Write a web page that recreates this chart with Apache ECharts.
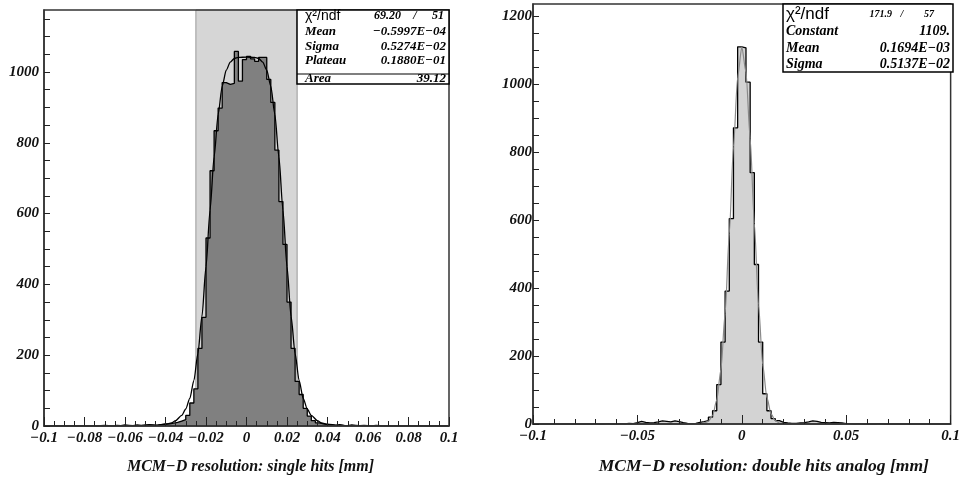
<!DOCTYPE html>
<html>
<head>
<meta charset="utf-8">
<script src="https://cdn.jsdelivr.net/npm/echarts@6/dist/echarts.min.js"></script>
<style>html,body{margin:0;padding:0;background:#fff}#main{width:963px;height:480px}</style>
</head>
<body>
<div id="main"></div>
<script>
// histogram: 100 bins of 0.002 from -0.1 to 0.1
var binLo = -0.1;
var binW = 0.002;

var leftCounts = [
  0, 0, 1, 0, 0, 1, 0, 0, 1, 0,
  0, 1, 0, 1, 2, 1, 0, 2, 1, 3,
  2, 1, 3, 2, 3, 4, 3, 2, 4, 6,
  6, 8, 10, 14, 18, 30, 65, 105, 219, 307,
  531, 721, 834, 898, 970, 965, 968, 1058, 974, 1035,
  1044, 1037, 1030, 1041, 1041, 979, 914, 779, 634, 513,
  350, 219, 126, 89, 50, 28, 15, 9, 6, 4,
  3, 2, 4, 2, 1, 3, 2, 1, 2, 1,
  0, 2, 1, 0, 1, 0, 1, 0, 0, 1,
  0, 0, 1, 0, 0, 0, 1, 0, 0, 0
];

var rightCounts = [
  0, 0, 0, 0, 0, 0, 0, 0, 0, 0,
  0, 0, 0, 0, 1, 0, 0, 1, 0, 0,
  1, 0, 2, 1, 4, 8, 5, 3, 4, 6,
  9, 8, 6, 9, 7, 4, 2, 1, 2, 5,
  7, 10, 20, 39, 116, 241, 391, 604, 871, 1109,
  1106, 1005, 739, 469, 241, 89, 39, 16, 10, 5,
  3, 2, 2, 3, 4, 6, 9, 8, 5, 4,
  3, 5, 4, 3, 1, 1, 0, 1, 0, 0,
  0, 0, 1, 0, 0, 0, 0, 0, 0, 0,
  0, 0, 0, 0, 0, 0, 0, 0, 0, 0
];

// fit curves
var leftFitX = [-0.1, -0.07, -0.05, -0.045, -0.04, -0.037, -0.035, -0.032, -0.03, -0.028, -0.026, -0.024, -0.022, -0.02, -0.018, -0.016, -0.014, -0.012, -0.01, -0.008, -0.006, -0.004, 0,
  0.004, 0.006, 0.008, 0.01, 0.012, 0.014, 0.016, 0.018, 0.02, 0.022, 0.024, 0.026, 0.028, 0.03, 0.032, 0.035, 0.037, 0.04, 0.045, 0.05, 0.07, 0.1];
var leftFitY = [0, 0, 1, 2, 5, 9, 15, 30, 48, 78, 128, 205, 310, 450, 610, 760, 880, 960, 1005, 1028, 1038, 1041, 1042,
  1041, 1038, 1028, 1005, 960, 880, 760, 610, 450, 310, 205, 128, 78, 48, 30, 15, 9, 5, 2, 1, 0, 0];

var rightFitX = [-0.1, -0.03, -0.02, -0.018, -0.016, -0.014, -0.012, -0.01, -0.008, -0.006, -0.004, -0.002, 0, 0.002, 0.004, 0.006, 0.008, 0.01, 0.012, 0.014, 0.016, 0.018, 0.02, 0.03, 0.1];
var rightFitY = [0, 0, 1, 3, 8, 25, 70, 160, 325, 560, 815, 1020, 1108, 1035, 840, 590, 350, 175, 78, 30, 10, 3, 1, 0, 0];

var yLabelsLeft = [0, 200, 400, 600, 800, 1000];
var yLabelsRight = [0, 200, 400, 600, 800, 1000, 1200];

var SERIF = '"Liberation Serif", "DejaVu Serif", serif';

function steps(counts) {
  var pts = [];
  for (var k = 0; k < counts.length; k++) {
    pts.push([+(binLo + k * binW).toFixed(4), counts[k]]);
  }
  pts.push([+(binLo + counts.length * binW).toFixed(4), counts[counts.length - 1]]);
  return pts;
}

function pairs(xs, ys) {
  return xs.map(function (x, i) { return [x, ys[i]]; });
}

function fmtX(v) {
  if (Math.abs(v) < 1e-9) return '0';
  return String(parseFloat(v.toFixed(3))).replace('-', '\u2212');
}

var labelStyle = { fontFamily: SERIF, fontStyle: 'italic', fontWeight: 'bold', fontSize: 15, color: '#111' };
var frame = { color: '#333', width: 1.5 };

function xAxisOf(grid, interval, minorSplit, name, nameSize, shift) {
  return {
    gridIndex: grid, type: 'value', min: -0.1, max: 0.1, interval: interval,
    name: name, nameLocation: 'middle', nameGap: 33,
    nameTextStyle: { fontFamily: SERIF, fontStyle: 'italic', fontWeight: 'bold', fontSize: nameSize, color: '#111', padding: [0, 0, 0, shift] },
    axisLine: { show: true, onZero: false, lineStyle: frame },
    axisTick: { show: true, inside: true, length: 9, lineStyle: { color: '#222', width: 1 } },
    minorTick: { show: true, splitNumber: minorSplit, length: 5, lineStyle: { color: '#222', width: 1 } },
    axisLabel: Object.assign({ formatter: fmtX, margin: 5 }, labelStyle),
    splitLine: { show: false }, minorSplitLine: { show: false },
    z: 10
  };
}

function yAxisOf(grid, max, labels, margin) {
  return {
    gridIndex: grid, type: 'value', min: 0, max: max, interval: 50,
    axisLine: { show: true, onZero: false, lineStyle: frame },
    axisTick: { show: true, inside: true, length: 6, lineStyle: { color: '#222', width: 1 } },
    axisLabel: Object.assign({
      margin: margin, showMaxLabel: false,
      formatter: function (v) { return labels.indexOf(v) >= 0 ? String(v) : ''; }
    }, labelStyle),
    splitLine: { show: false },
    z: 10
  };
}

function statText(x, y, text, opt) {
  return {
    type: 'text', z: 101,
    style: Object.assign({
      x: x, y: y, text: text, fill: '#000', verticalAlign: 'middle', align: 'left',
      font: 'italic bold 13px ' + SERIF
    }, opt || {})
  };
}

function serif(px, align) {
  return { font: 'italic bold ' + px + 'px ' + SERIF, align: align || 'left' };
}
function sans(px) {
  return { font: px + 'px "Liberation Sans", Arial, sans-serif' };
}

var chart = echarts.init(document.getElementById('main'));

chart.setOption({
  animation: false,
  backgroundColor: '#fff',
  grid: [
    { left: 44, top: 10, width: 405, height: 420, show: true, borderColor: '#333', borderWidth: 1.5, z: 5 },
    { left: 533, top: 4, width: 420, height: 426, show: true, borderColor: '#333', borderWidth: 1.5, z: 5 }
  ],
  xAxis: [
    xAxisOf(0, 0.02, 4, 'MCM\u2212D resolution: single hits [mm]', 16, 8),
    xAxisOf(1, 0.05, 5, 'MCM\u2212D resolution: double hits analog [mm]', 17.5, 44)
  ],
  yAxis: [
    yAxisOf(0, 1175, yLabelsLeft, 5),
    yAxisOf(1, 1235, yLabelsRight, 1)
  ],
  series: [
    {
      type: 'line', xAxisIndex: 0, yAxisIndex: 0, step: 'end', symbol: 'none',
      data: steps(leftCounts),
      lineStyle: { color: '#000', width: 1.3 },
      areaStyle: { color: '#808080', opacity: 1 },
      markArea: {
        silent: true,
        itemStyle: { color: '#d6d6d6', borderColor: '#9a9a9a', borderWidth: 1 },
        data: [[{ xAxis: -0.025 }, { xAxis: 0.025 }]]
      },
      z: 2
    },
    {
      type: 'line', xAxisIndex: 0, yAxisIndex: 0, symbol: 'none', smooth: 0.25, smoothMonotone: 'x',
      data: pairs(leftFitX, leftFitY),
      lineStyle: { color: '#000', width: 1.3 },
      z: 3
    },
    {
      type: 'line', xAxisIndex: 1, yAxisIndex: 1, step: 'end', symbol: 'none',
      data: steps(rightCounts),
      lineStyle: { color: '#000', width: 1.3 },
      areaStyle: { color: '#d3d3d3', opacity: 1 },
      z: 2
    },
    {
      type: 'line', xAxisIndex: 1, yAxisIndex: 1, symbol: 'none', smooth: 0.25, smoothMonotone: 'x',
      data: pairs(rightFitX, rightFitY),
      lineStyle: { color: '#8a8a8a', width: 1.2 },
      z: 3
    }
  ],
  graphic: [
    { type: 'rect', z: 100, shape: { x: 297, y: 10, width: 152, height: 74 }, style: { fill: '#fff', stroke: '#000', lineWidth: 1.5 } },
    { type: 'line', z: 100, shape: { x1: 297, y1: 74, x2: 449, y2: 74 }, style: { stroke: '#000', lineWidth: 1.2 } },
    statText(305, 16, '\u03c7\u00b2/ndf', sans(14)),
    statText(401, 16, '69.20', serif(12, 'right')),
    statText(415, 16, '/', serif(12, 'center')),
    statText(444, 16, '51', serif(12, 'right')),
    statText(305, 32, 'Mean'),
    statText(446, 32, '\u22120.5997E\u221204', { align: 'right' }),
    statText(305, 47, 'Sigma'),
    statText(446, 47, '0.5274E\u221202', { align: 'right' }),
    statText(305, 61, 'Plateau'),
    statText(446, 61, '0.1880E\u221201', { align: 'right' }),
    statText(305, 79, 'Area'),
    statText(446, 79, '39.12', { align: 'right' }),

    { type: 'rect', z: 100, shape: { x: 783, y: 4, width: 170, height: 68 }, style: { fill: '#fff', stroke: '#000', lineWidth: 1.5 } },
    statText(786, 14, '\u03c7\u00b2/ndf', sans(17)),
    statText(892, 14, '171.9', serif(10, 'right')),
    statText(902, 14, '/', serif(10, 'center')),
    statText(934, 14, '57', serif(10, 'right')),
    statText(786, 31, 'Constant', serif(14)),
    statText(950, 31, '1109.', serif(14, 'right')),
    statText(786, 48, 'Mean', serif(14)),
    statText(950, 48, '0.1694E\u221203', serif(14, 'right')),
    statText(786, 64, 'Sigma', serif(14)),
    statText(950, 64, '0.5137E\u221202', serif(14, 'right'))
  ]
});
</script>
</body>
</html>
